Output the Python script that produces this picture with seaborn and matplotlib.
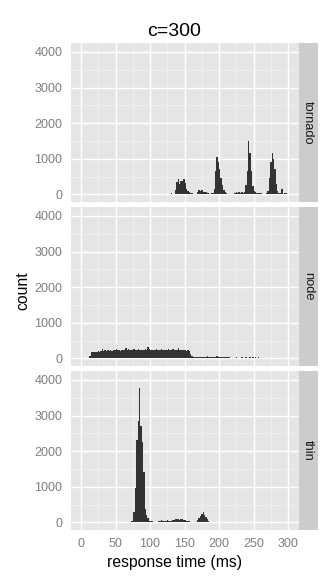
import numpy as np
import pandas as pd
import matplotlib
matplotlib.use("Agg")
import matplotlib.pyplot as plt
import seaborn as sns

# ---------------- data ----------------
title = "c=300"
servers = ["tornado", "node", "thin"]
bin_width = 2  # ms

tornado_start = 130
tornado_counts = [25, 0, 0, 120, 350, 420, 300, 360, 380, 420, 330, 150, 80, 70, 40, 30,
                  0, 0, 0, 70, 120, 80, 110, 60, 60, 60, 30, 30, 0, 25, 40, 150,
                  650, 1060, 900, 700, 450, 250, 120, 70, 40, 0, 0, 0, 0, 0,
                  40, 60, 45, 65, 40, 55, 50, 70, 250, 650, 1500, 1150, 650, 220, 100, 60,
                  40, 50, 30, 25, 22, 22, 22, 25, 100, 450, 900, 1170, 1000, 700, 300, 80,
                  50, 40, 150, 0, 25, 25]

node_start = 12
node_counts = [60, 165, 180, 175, 190, 180, 195, 185, 200, 255, 210, 220, 205, 225, 215, 230,
               210, 240, 220, 250, 225, 235, 215, 245, 230, 240, 280, 225, 250, 230, 240, 220,
               260, 235, 230, 250, 225, 245, 230, 240, 250, 235, 330, 250, 240, 225, 245, 230,
               250, 235, 225, 240, 255, 230, 245, 220, 240, 260, 235, 225, 250, 230, 240, 235,
               285, 240, 225, 235, 220, 230, 215, 225, 200, 130, 60, 30,
               25, 25, 25, 25, 25, 25, 25, 25, 25, 55, 25, 25, 25, 25, 25, 25, 60,
               25, 25, 25, 25, 25, 25, 25, 25, 25, 0, 0, 0, 0,
               28, 0, 0, 0, 28, 0, 0, 28, 0, 0, 28, 0, 28, 0, 28, 0, 28]

thin_start = 72
thin_counts = [25, 30, 300, 950, 2300, 2850, 3770, 2700, 2250, 1400, 380, 200, 110, 50, 30, 25,
               22, 22, 22, 20, 25, 40, 60, 35, 50, 40, 55, 35, 25, 30, 70, 60,
               90, 80, 100, 70, 95, 80, 60, 70, 40, 30, 25, 20, 0, 0, 0, 0,
               60, 130, 170, 230, 300, 200, 150, 80, 40, 0]

x_ticks = [0, 50, 100, 150, 200, 250, 300]
y_ticks = [0, 1000, 2000, 3000, 4000]
x_label = "response time (ms)"
y_label = "count"

# build long table
rows = []
for name, start, counts in [("tornado", tornado_start, tornado_counts),
                            ("node", node_start, node_counts),
                            ("thin", thin_start, thin_counts)]:
    for i, c in enumerate(counts):
        rows.append((name, start + i * bin_width + bin_width / 2, float(c)))
df = pd.DataFrame(rows, columns=["server", "time", "count"])

# ---------------- style ----------------
sns.set_style("white")
plt.rcParams["font.family"] = ["Liberation Sans", "DejaVu Sans"]

W, H = 336, 581
fig = plt.figure(figsize=(W / 100, H / 100), dpi=100)


def box(l, t, r, b):
    return [l / W, 1 - b / H, (r - l) / W, (b - t) / H]


panel_tops = [43.2, 207.2, 371.2]
ph = 158.4
tick_grey = "#7F7F7F"

for i, name in enumerate(servers):
    t = panel_tops[i]
    ax = fig.add_axes(box(71, t, 298.5, t + ph))
    sub = df[df["server"] == name].reset_index(drop=True)
    sns.histplot(data=sub, x="time", weights="count", binwidth=bin_width, binrange=(0, 300),
                 ax=ax, element="step", fill=True, color="#333333", alpha=1, linewidth=0)
    ax.set_xlim(-14.5, 315)
    ax.set_ylim(-205, 4245)
    ax.set_facecolor("#E5E5E5")
    for s in ax.spines.values():
        s.set_visible(False)
    ax.set_xticks(x_ticks)
    ax.set_yticks(y_ticks)
    ax.set_xticks([25, 75, 125, 175, 225, 275], minor=True)
    ax.set_yticks([500, 1500, 2500, 3500], minor=True)
    ax.grid(True, which="major", color="white", linewidth=1.0)
    ax.grid(True, which="minor", color="#F2F2F2", linewidth=0.5)
    ax.set_axisbelow(True)
    ax.set_xlabel("")
    ax.set_ylabel("")
    ax.tick_params(axis="both", which="major", length=4.5, width=0.7, color=tick_grey,
                   labelcolor=tick_grey, labelsize=9, pad=1.8)
    ax.tick_params(axis="both", which="minor", length=0)
    ax.set_yticklabels([str(v) for v in y_ticks])
    if i < 2:
        ax.tick_params(axis="x", which="major", length=0, labelbottom=False)
    else:
        ax.set_xticklabels([str(v) for v in x_ticks])

    sax = fig.add_axes(box(298.5, t, 318, t + ph))
    sax.set_facecolor("#CCCCCC")
    for s in sax.spines.values():
        s.set_visible(False)
    sax.set_xticks([])
    sax.set_yticks([])
    sax.text(0.5, 0.5, name, rotation=-90, ha="center", va="center",
             fontsize=9.3, color="#1A1A1A", transform=sax.transAxes)

fig.text(174 / W, 1 - 32 / H, title, ha="center", va="center", fontsize=14, color="black")
fig.text(174.7 / W, 1 - 562 / H, x_label, ha="center", va="center", fontsize=11.3, color="black")
fig.text(23.3 / W, 1 - 291 / H, y_label, ha="center", va="center", rotation=90,
         fontsize=11.3, color="black")

fig.savefig("out.png", dpi=100, facecolor="white")
